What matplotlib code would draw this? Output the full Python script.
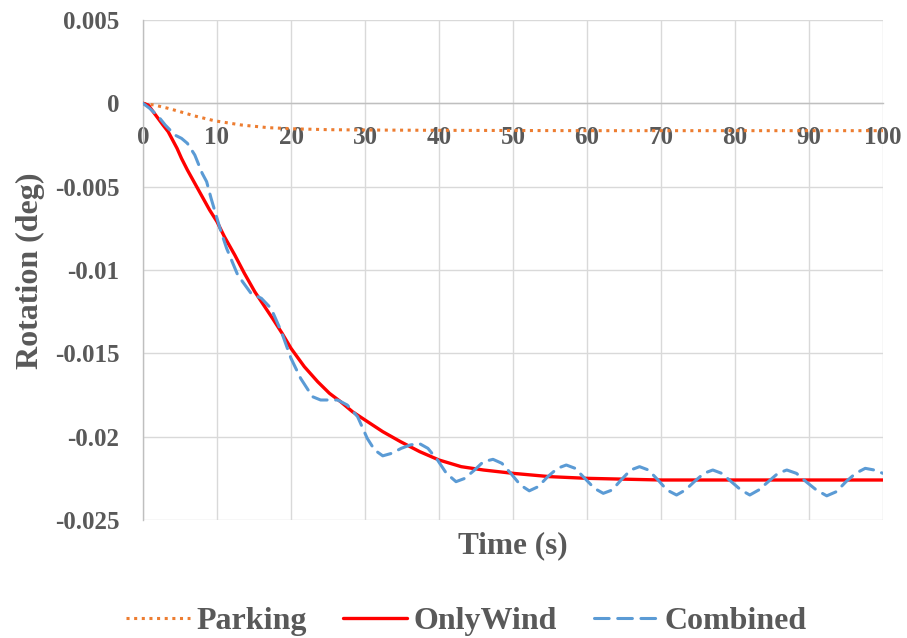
import matplotlib
matplotlib.use("Agg")
import matplotlib.pyplot as plt

# ---------------- data ----------------
t_park = [0, 1.5, 3.4, 5, 7, 9.7, 13.3, 16.9, 20.5, 25, 30, 40, 50, 60, 70, 80, 90, 100]
v_park = [0, -0.0001, -0.0003, -0.0005, -0.00076, -0.00105, -0.0013, -0.00146, -0.00153,
          -0.00158, -0.0016, -0.00162, -0.00163, -0.00164, -0.00164, -0.00164, -0.00164, -0.00164]

t_wind = [0, 0.7, 1.2, 1.7, 2.2, 2.7, 3.4, 4, 4.6, 5.2, 6, 7, 8, 9, 10, 11, 12.4, 13.7, 15.1,
          16.3, 17.5, 18.8, 20, 21.8, 23.6, 25.2, 26.7, 28.3, 30, 32.4, 34.8, 37.4, 40, 43, 46,
          50, 55, 60, 65, 70, 80, 90, 100]
v_wind = [0, -0.0001, -0.0004, -0.0007, -0.0010, -0.0013, -0.0017, -0.0022, -0.0027, -0.0033,
          -0.0040, -0.0048, -0.0056, -0.0064, -0.0071, -0.0080, -0.0091, -0.0102, -0.0113,
          -0.0121, -0.0129, -0.0138, -0.0147, -0.0158, -0.0167, -0.0174, -0.0179, -0.0185,
          -0.0190, -0.0197, -0.0203, -0.0209, -0.0214, -0.0218, -0.0220, -0.0222, -0.0224,
          -0.0225, -0.02255, -0.0226, -0.0226, -0.0226, -0.0226]

t_comb = [0, 0.9, 2.1, 3, 4.3, 5.2, 6, 7, 8, 8.6, 9.2, 10.4, 11.3, 12.8, 14.6, 16, 17.3, 18.7,
          20, 21.3, 22.9, 24, 26.3, 27.6, 29, 30.3, 31.3, 32.4, 33.6, 34.9, 36.1, 37.3, 38.5,
          39.8, 41, 42.3, 43.5, 44.8, 46, 47.3, 48.5, 49.7, 51, 52.2, 53.4, 54.7, 56, 57.2,
          58.4, 59.7, 61, 62.2, 63.4, 64.6, 65.9, 67.1, 68.3, 69.6, 70.8, 72.1, 73.3, 74.5,
          75.8, 77, 78.2, 79.5, 80.8, 82, 83.2, 84.5, 85.8, 87, 88.3, 89.6, 91, 92.4, 93.7,
          95, 96.3, 97.6, 98.8, 100]
v_comb = [0, -0.0003, -0.0008, -0.0013, -0.0019, -0.0021, -0.0024, -0.0031, -0.0042, -0.0047,
          -0.0057, -0.0075, -0.0087, -0.0103, -0.0114, -0.0117, -0.0123, -0.0137, -0.0153,
          -0.0165, -0.0176, -0.0178, -0.0178, -0.0181, -0.0188, -0.0201, -0.0208, -0.02115,
          -0.0210, -0.0207, -0.0205, -0.0204, -0.0207, -0.0214, -0.0222, -0.0227, -0.0225,
          -0.0220, -0.0215, -0.02136, -0.0216, -0.0222, -0.0229, -0.02325, -0.0230, -0.0224,
          -0.0219, -0.0217, -0.0219, -0.0225, -0.0231, -0.0234, -0.0232, -0.0226, -0.0220,
          -0.0218, -0.0220, -0.0226, -0.0232, -0.0235, -0.0232, -0.0227, -0.0222, -0.0220,
          -0.0222, -0.0227, -0.0232, -0.0235, -0.0232, -0.0227, -0.0222, -0.0220, -0.0222,
          -0.0227, -0.0232, -0.02355, -0.0233, -0.0227, -0.0222, -0.0219, -0.0220, -0.0222]

x_ticks = [0, 10, 20, 30, 40, 50, 60, 70, 80, 90, 100]
x_labels = ["0", "10", "20", "30", "40", "50", "60", "70", "80", "90", "100"]
y_ticks = [-0.025, -0.02, -0.015, -0.01, -0.005, 0, 0.005]
y_labels = ["-0.025", "-0.02", "-0.015", "-0.01", "-0.005", "0", "0.005"]

# ---------------- style ----------------
plt.rcParams["font.family"] = ["Liberation Serif", "DejaVu Serif"]
plt.rcParams["font.weight"] = "bold"
TXT = "#595959"
GRID = "#D9D9D9"
AXL = "#BFBFBF"

fig = plt.figure(figsize=(9.07, 6.38), dpi=100)
ax = fig.add_axes([143 / 907, 1 - 520 / 638, (883 - 143) / 907, (520 - 20) / 638])

l1, = ax.plot(t_park, v_park, color="#ED7D31", lw=2.2, linestyle=(0, (1.0, 1.5)),
              dash_capstyle="butt", label="Parking", zorder=3)
l2, = ax.plot(t_wind, v_wind, color="#FF0000", lw=2.4, label="OnlyWind", zorder=4,
              solid_capstyle="round", solid_joinstyle="round")
l3, = ax.plot(t_comb, v_comb, color="#5B9BD5", lw=2.2, linestyle=(0, (4.8, 2.8)),
              dash_capstyle="round", label="Combined", zorder=5)

ax.set_xlim(0, 100)
ax.set_ylim(-0.025, 0.005)
ax.set_xticks(x_ticks)
ax.set_xticklabels(x_labels)
ax.set_yticks(y_ticks)
ax.set_yticklabels(y_labels)
ax.grid(True, color=GRID, lw=1.0, zorder=0)
ax.set_axisbelow(True)

for s in ["top", "right"]:
    ax.spines[s].set_visible(False)
ax.spines["bottom"].set_position(("data", 0))
ax.spines["bottom"].set_color(AXL)
ax.spines["left"].set_color(AXL)
ax.spines["bottom"].set_linewidth(1.0)
ax.spines["left"].set_linewidth(1.0)

ax.tick_params(axis="both", length=0, labelsize=18, labelcolor=TXT)
ax.tick_params(axis="x", pad=16)
ax.tick_params(axis="y", pad=17)
for lab in ax.get_xticklabels() + ax.get_yticklabels():
    lab.set_fontweight("bold")

fig.text(30 / 907, 1 - 271 / 638, "Rotation (deg)", rotation=90, ha="center", va="center",
         fontsize=23, fontweight="bold", color=TXT)
fig.text(513 / 907, 1 - 546 / 638, "Time (s)", ha="center", va="center",
         fontsize=22.5, fontweight="bold", color=TXT)

leg = fig.legend(handles=[l1, l2, l3], loc="center", bbox_to_anchor=(466 / 907, 1 - 621 / 638),
                 ncol=3, frameon=False, fontsize=23, handlelength=2.0, handletextpad=0.2,
                 columnspacing=1.15, borderaxespad=0)
for t in leg.get_texts():
    t.set_color(TXT)
    t.set_fontweight("bold")

fig.savefig("out.png", dpi=100)
